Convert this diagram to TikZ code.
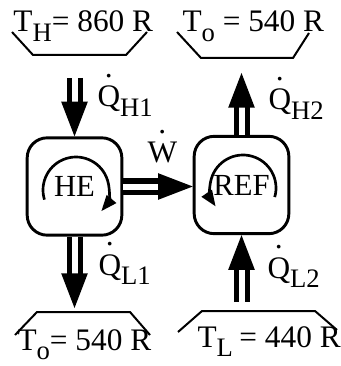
\documentclass[tikz,border=0pt]{standalone}
\usepackage{fontspec}
\setmainfont{Liberation Serif}
\usetikzlibrary{arrows.meta,decorations.markings}

\newcommand{\lo}[1]{\raisebox{-0.3em}{\fontsize{20}{22}\selectfont #1}}
\newcommand{\rt}[1]{\sbox0{#1}\rlap{\makebox[\wd0]{\raisebox{0.95em}{.}}}#1}

\tikzset{every picture/.style={line width=0.75pt}}
\tikzset{
lbl/.style={anchor=base west, inner sep=0pt, font=\fontsize{23.5}{28}\selectfont},
resv/.style={line width=1.5pt, line join=miter},
device/.style={draw, line width=2.2pt, rounded corners=15pt, minimum width=71pt, minimum height=73pt, inner sep=0pt, font=\fontsize{23}{26}\selectfont},
cyc/.style={line width=2pt, -{Triangle[length=12pt,width=9pt]}},
heat/.style={double, double distance=4.5pt, line width=3.75pt, shorten >=22pt,
  postaction={decorate},
  decoration={markings, mark=at position 1 with {\fill (0pt,0pt) -- (-26pt,10pt) -- (-26pt,-10pt) -- cycle;}}}}

\begin{document}
\begin{tikzpicture}[x=0.75pt,y=0.75pt,yscale=-1,xscale=1]
\useasboundingbox (0,0) rectangle (340,366);

% Reservoirs
\node[lbl] (th) at (13,32) {T\lo{H}= 860 R};
\draw[resv] (12,32) -- (33,55) -- (126,55) -- (147,32);
\node[lbl] (to1) at (182,32) {T\lo{o} = 540 R};
\draw[resv] (177,32) -- (201,58) -- (293,58) -- (309,33);
\node[lbl] (to2) at (17,350) {T\lo{o}= 540 R};
\draw[resv] (15,335) -- (37,312) -- (130,312) -- (150,335);
\node[lbl] (tl) at (197,347) {T\lo{L}\kern-1pt{} = 440 R};
\draw[resv] (178,332) -- (202,311) -- (315,311) -- (337,330);

% Devices
\node[device] (he) at (74.5,186.5) {HE};
\node[device] (ref) at (241.5,185) {REF};
\draw[cyc] ([shift={(1.5,3.5)}]he.center) ++(163:33) arc[start angle=163, end angle=400, radius=33];
\draw[cyc] ([shift={(1.5,3)}]ref.center) ++(16:33) arc[start angle=16, end angle=-214, radius=33];

% Heat and work flows
\coordinate (qh1) at (74.5,78);
\coordinate (ql1) at (74.5,308);
\coordinate (qh2) at (241.5,73);
\coordinate (ql2) at (241.5,302);
\draw[heat] (qh1) -- (he.north);
\draw[heat] (he.east) -- (he.east -| ref.west);
\draw[heat] (he.south) -- (ql1);
\draw[heat] (ref.north) -- (qh2);
\draw[heat] (ql2) -- (ref.south);

% Labels
\node[lbl] (qH1) at (97,107) {\rt{Q}\lo{H1}};
\node[lbl] (qH2) at (268,110) {\rt{Q}\lo{H2}};
\node[lbl] (w) at (147,163) {\rt{W}};
\node[lbl] (qL1) at (98,275) {\rt{Q}\lo{L1}};
\node[lbl] (qL2) at (267,278) {\rt{Q}\lo{L2}};

\end{tikzpicture}
\end{document}
